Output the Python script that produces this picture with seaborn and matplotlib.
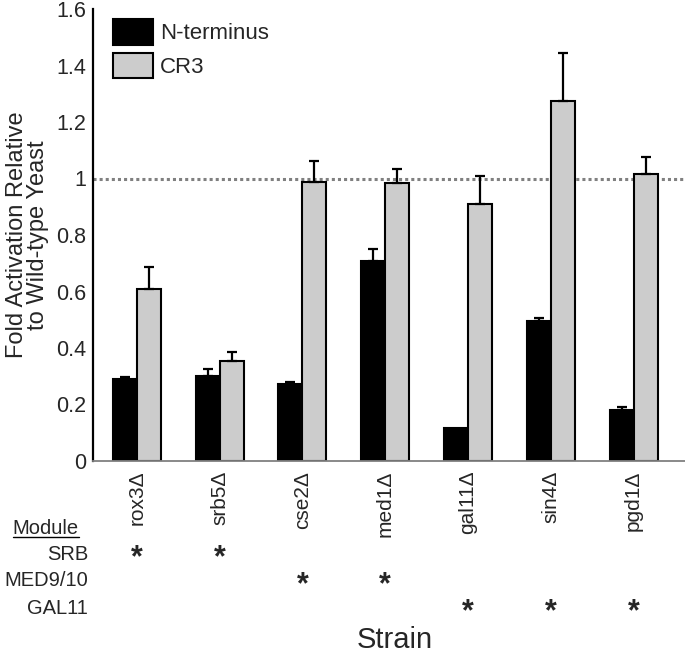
import numpy as np
import pandas as pd
import matplotlib
matplotlib.use('Agg')
import matplotlib.pyplot as plt
import matplotlib.transforms as mtransforms
from matplotlib.patches import Patch
import seaborn as sns

# values
strains = ['rox3Δ', 'srb5Δ', 'cse2Δ', 'med1Δ', 'gal11Δ', 'sin4Δ', 'pgd1Δ']
nterm = [0.289, 0.300, 0.273, 0.708, 0.118, 0.497, 0.179]
nterm_err = [0.010, 0.025, 0.007, 0.044, 0.0, 0.008, 0.013]
cr3 = [0.608, 0.354, 0.989, 0.985, 0.911, 1.274, 1.017]
cr3_err = [0.080, 0.033, 0.073, 0.050, 0.099, 0.169, 0.058]
series = ['N-terminus', 'CR3']
modules = ['SRB', 'MED9/10', 'GAL11']
module_strains = [['rox3Δ', 'srb5Δ'], ['cse2Δ', 'med1Δ'], ['gal11Δ', 'sin4Δ', 'pgd1Δ']]

df = pd.DataFrame({
    'Strain': strains * 2,
    'Value': nterm + cr3,
    'Series': [series[0]] * len(strains) + [series[1]] * len(strains),
})

sns.set_style('white')
plt.rcParams['font.family'] = ['Liberation Sans', 'DejaVu Sans']

W, H = 685, 655
fig = plt.figure(figsize=(W / 100, H / 100), dpi=100)
ax = fig.add_axes([93 / W, 1 - 461 / H, 592 / W, 452 / H])

colors = ['black', '#cccccc']
sns.barplot(data=df, x='Strain', y='Value', hue='Series', palette=colors,
            edgecolor='black', linewidth=1.5, width=0.58, errorbar=None,
            saturation=1, ax=ax)

# upper error bars on each bar
for cont, err in zip(ax.containers, [nterm_err, cr3_err]):
    for bar, e in zip(cont, err):
        if e <= 0:
            continue
        xc = bar.get_x() + bar.get_width() / 2
        ax.errorbar(xc, bar.get_height(), yerr=[[0], [e]], fmt='none',
                    ecolor='black', elinewidth=1.6, capsize=3.5, capthick=1.6)

ax.axhline(1, color='#808080', ls=(0, (1, 1)), lw=2.2, zorder=0)

ax.set_ylim(0, 1.6)
ax.set_xlim(-0.53, 6.62)
ax.set_yticks(np.arange(0, 1.61, 0.2))
ax.set_yticklabels(['0', '0.2', '0.4', '0.6', '0.8', '1', '1.2', '1.4', '1.6'])
ax.tick_params(axis='y', length=0, pad=5, labelsize=15.5)
ax.tick_params(axis='x', length=0, pad=7, labelsize=15, labelrotation=90)
ax.set_xlabel('')
ax.set_ylabel('Fold Activation Relative\nto Wild-type Yeast', fontsize=17,
              linespacing=0.95, va='center')
ax.yaxis.set_label_coords(-0.11, 0.5)

sns.despine(ax=ax)
ax.spines['left'].set_linewidth(1.6)
ax.spines['left'].set_color('black')
ax.spines['bottom'].set_linewidth(1.3)
ax.spines['bottom'].set_color('#808080')

handles = [Patch(facecolor=c, edgecolor='black', linewidth=1.5) for c in colors]
ax.legend(handles, series, loc='upper left', bbox_to_anchor=(0.034, 0.978),
          frameon=False, fontsize=16, handlelength=1.8, handleheight=1.4,
          labelspacing=0.36, handletextpad=0.3, borderpad=0, borderaxespad=0)

# module table below the axis
fig.text(79 / W, 1 - 528 / H, 'Module', ha='right', va='center', fontsize=14.5)
fig.add_artist(plt.Line2D([13 / W, 79 / W], [1 - 537 / H, 1 - 537 / H],
                          color='black', lw=1.0))
trans = mtransforms.blended_transform_factory(ax.transData, fig.transFigure)
row_y = [554, 581, 608]
for mod, members, yp in zip(modules, module_strains, row_y):
    fig.text(88 / W, 1 - yp / H, mod, ha='right', va='center', fontsize=14.5)
    for s in members:
        ax.text(strains.index(s), 1 - (yp + 4) / H, '*', transform=trans,
                ha='center', va='center', fontsize=22, fontweight='bold',
                clip_on=False)

fig.text(395 / W, 1 - 648 / H, 'Strain', ha='center', va='baseline', fontsize=21)

fig.savefig('out.png', dpi=100)
